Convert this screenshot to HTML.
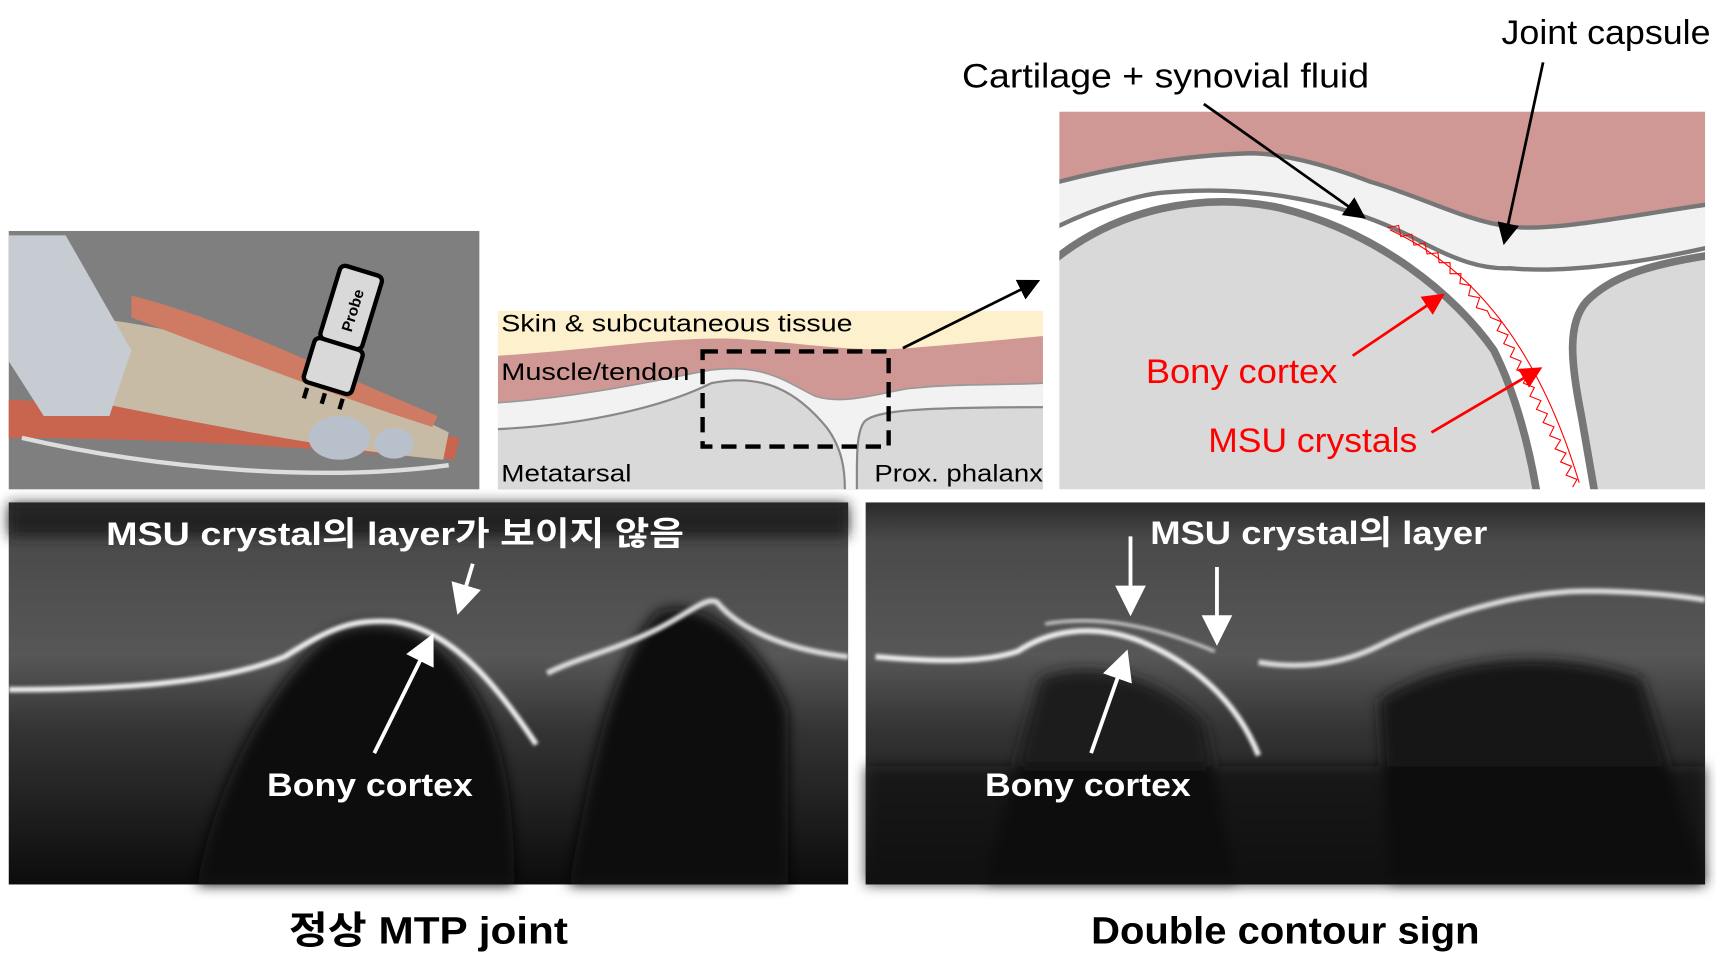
<!DOCTYPE html>
<html><head><meta charset="utf-8"><style>
html,body{margin:0;padding:0;background:#fff;width:1716px;height:960px;overflow:hidden}
svg{display:block}
text{font-family:"Liberation Sans","Noto Sans CJK KR",sans-serif}
</style></head><body>
<svg width="1716" height="960" viewBox="0 0 1568 877" preserveAspectRatio="none" xmlns="http://www.w3.org/2000/svg">
<defs>
<marker id="ab" markerWidth="8" markerHeight="8" refX="6" refY="4" orient="auto" markerUnits="strokeWidth"><path d="M0,0 L8,4 L0,8 Z" fill="#000"/></marker>
<marker id="ar" markerWidth="8" markerHeight="8" refX="6" refY="4" orient="auto" markerUnits="strokeWidth"><path d="M0,0 L8,4 L0,8 Z" fill="#f00"/></marker>
<marker id="aw" markerWidth="8" markerHeight="8" refX="6" refY="4" orient="auto" markerUnits="strokeWidth"><path d="M0,0 L8,4 L0,8 Z" fill="#fff"/></marker>
<linearGradient id="usg" x1="0" y1="0" x2="0" y2="1">
<stop offset="0" stop-color="#2a2a2a"/><stop offset="0.1" stop-color="#4a4a4a"/><stop offset="0.4" stop-color="#575757"/><stop offset="0.6" stop-color="#333"/><stop offset="1" stop-color="#0c0c0c"/>
</linearGradient>
<filter id="blur"><feGaussianBlur stdDeviation="6"/></filter>
<filter id="b2"><feGaussianBlur stdDeviation="1.5"/></filter>
<clipPath id="rc"><rect x="968" y="102" width="590" height="345"/></clipPath>
</defs>

<!-- Foot panel -->
<rect x="8" y="211" width="430" height="236" fill="#7f7f7f"/>
<path d="M8,365 C100,370 250,370 420,400 L415,420 C300,410 150,400 8,400 Z" fill="#c9644f"/>
<path d="M80,290 C180,300 300,340 410,395 L405,420 C300,410 200,390 100,370 Z" fill="#c8bba6"/>
<path d="M120,270 C200,290 280,330 400,380 L395,390 C300,360 200,320 120,290 Z" fill="#cf7a63"/>
<path d="M8,215 L60,215 L120,320 L100,380 L40,380 L8,330 Z" fill="#c7ccd3"/>
<ellipse cx="310" cy="400" rx="28" ry="20" fill="#b8c0cc"/>
<ellipse cx="360" cy="405" rx="18" ry="14" fill="#b8c0cc"/>
<path d="M20,400 C150,430 300,440 410,425" stroke="#ddd" stroke-width="4" fill="none"/>
<g transform="rotate(17 315 300)">
<rect x="295" y="245" width="40" height="70" rx="5" fill="#d9d9d9" stroke="#000" stroke-width="4"/>
<rect x="292" y="315" width="46" height="42" rx="5" fill="#d9d9d9" stroke="#000" stroke-width="4"/>
<text x="0" y="0" transform="translate(322 302) rotate(-90)" font-size="14" font-weight="bold">Probe</text>
<path d="M298,362 v10 M315,362 v10 M332,362 v10" stroke="#000" stroke-width="4"/>
</g>

<!-- Middle diagram -->
<rect x="455" y="284" width="498" height="163" fill="#fdf0cc"/>
<path d="M455,325 C540,320 620,306 680,310 C740,314 780,322 830,318 C880,314 920,310 953,307 L953,447 L455,447 Z" fill="#cf9895"/>
<path d="M455,368 C540,362 610,345 650,338 C700,332 720,350 745,362 C770,370 800,360 830,355 C880,350 920,352 953,350 L953,447 L455,447 Z" fill="#f2f2f2"/>
<path d="M455,368 C540,362 610,345 650,338 C700,332 720,350 745,362 C770,370 800,360 830,355 C880,350 920,352 953,350" fill="none" stroke="#999" stroke-width="1.5"/>
<path d="M455,392 C540,388 610,370 650,350 C700,340 730,360 755,390 C770,410 772,430 772,447 L455,447 Z" fill="#d9d9d9"/>
<path d="M455,392 C540,388 610,370 650,350 C700,340 730,360 755,390 C770,410 772,430 772,447" fill="none" stroke="#888" stroke-width="2"/>
<path d="M783,447 C783,420 782,395 790,385 C800,375 840,372 953,372 L953,447 Z" fill="#d9d9d9"/>
<path d="M783,447 C783,420 782,395 790,385 C800,375 840,372 953,372" fill="none" stroke="#888" stroke-width="2"/>
<rect x="642" y="321" width="170" height="87" fill="none" stroke="#000" stroke-width="4" stroke-dasharray="14,8"/>
<line x1="825" y1="318" x2="946" y2="258" stroke="#000" stroke-width="2.5" marker-end="url(#ab)"/>
<text x="458" y="303" font-size="22" textLength="321" lengthAdjust="spacingAndGlyphs">Skin &amp; subcutaneous tissue</text>
<text x="458" y="347" font-size="22" textLength="172" lengthAdjust="spacingAndGlyphs">Muscle/tendon</text>
<text x="458" y="440" font-size="22" textLength="119" lengthAdjust="spacingAndGlyphs">Metatarsal</text>
<text x="799" y="440" font-size="22" textLength="154" lengthAdjust="spacingAndGlyphs">Prox. phalanx</text>

<!-- Right diagram -->
<g clip-path="url(#rc)">
<rect x="968" y="102" width="590" height="345" fill="#fff"/>
<path d="M960,102 H1566 V187 C1500,195 1420,212 1379,207 C1337,201 1300,180 1252,166 C1210,150 1170,140 1143,140 C1080,142 1020,152 960,168 Z" fill="#cf9895"/>
<path d="M960,168 C1020,152 1080,142 1143,140 C1170,140 1210,150 1252,166 C1300,180 1337,201 1379,207 C1420,212 1500,195 1566,186 L1566,225 C1500,240 1430,250 1379,245 C1355,246 1330,238 1295,219 C1230,185 1150,168 1062,176 C1040,178 1000,190 960,210 Z" fill="#f2f2f2" stroke="#777" stroke-width="4"/>
<path d="M960,240 C1020,190 1100,175 1170,190 C1260,212 1330,270 1365,320 C1385,360 1398,410 1405,455 L960,455 Z" fill="#d9d9d9"/>
<path d="M960,240 C1020,190 1100,175 1170,190 C1260,212 1330,270 1365,320 C1385,360 1398,410 1405,455" fill="none" stroke="#777" stroke-width="7"/>
<path d="M1570,232 C1500,242 1470,255 1450,275 C1432,295 1435,330 1445,380 L1458,455 L1570,455 Z" fill="#d9d9d9"/>
<path d="M1570,232 C1500,242 1470,255 1450,275 C1432,295 1435,330 1445,380 L1458,455" fill="none" stroke="#777" stroke-width="7"/>
</g>
<polyline points="1268,208 1278,206 1280,216 1290,214 1292,224 1302,222 1304,232 1314,231 1315,240 1325,240 1325,250 1335,250 1334,259 1344,261 1342,270 1352,272 1349,281 1359,284 1362,290 1372,294 1368,302 1378,306 1374,314 1384,318 1380,326 1390,330 1386,338 1396,342 1392,350 1402,354 1398,362 1408,366 1404,374 1414,378 1410,386 1420,390 1416,398 1426,402 1421,410 1431,414 1426,422 1436,426 1431,434 1441,438 1437,445" fill="none" stroke="#f00" stroke-width="1"/>
<path d="M1270,210 Q1390,265 1443,441" fill="none" stroke="#f00" stroke-width="1"/>
<line x1="1100" y1="95" x2="1244" y2="197" stroke="#000" stroke-width="2.5" marker-end="url(#ab)"/>
<line x1="1410" y1="57" x2="1375" y2="219" stroke="#000" stroke-width="2.5" marker-end="url(#ab)"/>
<line x1="1236" y1="325" x2="1316" y2="271" stroke="#f00" stroke-width="2.5" marker-end="url(#ar)"/>
<line x1="1308" y1="395" x2="1405" y2="338" stroke="#f00" stroke-width="2.5" marker-end="url(#ar)"/>
<text x="879" y="80" font-size="31" textLength="372" lengthAdjust="spacingAndGlyphs">Cartilage + synovial fluid</text>
<text x="1372" y="40" font-size="31" textLength="191" lengthAdjust="spacingAndGlyphs">Joint capsule</text>
<text x="1047" y="350" font-size="31" fill="#f00" textLength="175" lengthAdjust="spacingAndGlyphs">Bony cortex</text>
<text x="1104" y="413" font-size="31" fill="#f00" textLength="191" lengthAdjust="spacingAndGlyphs">MSU crystals</text>

<!-- Left ultrasound -->
<rect x="8" y="459" width="767" height="349" fill="url(#usg)"/>
<g filter="url(#blur)">
<path d="M300,580 C340,560 390,570 420,610 C450,650 470,700 470,808 L180,808 C200,700 260,610 300,580 Z" fill="#0c0c0c"/>
<path d="M600,560 C640,540 700,590 720,650 L720,808 L520,808 C540,700 560,600 600,560 Z" fill="#0e0e0e"/>
<rect x="8" y="460" width="767" height="30" fill="#222"/>
</g>
<path d="M8,630 C100,630 200,625 260,600 C300,575 320,565 360,568 C410,575 450,620 490,680" fill="none" stroke="#eee" stroke-width="5" filter="url(#b2)"/>
<path d="M500,615 C530,600 560,595 600,575 C630,560 645,545 655,550 C680,580 730,595 775,600" fill="none" stroke="#ddd" stroke-width="5" filter="url(#b2)"/>

<!-- Right ultrasound -->
<rect x="791" y="459" width="767" height="349" fill="url(#usg)"/>
<g filter="url(#blur)">
<path d="M950,620 C1000,600 1060,620 1100,660 L1130,808 L900,808 Z" fill="#1a1a1a"/>
<path d="M1260,640 C1320,600 1420,590 1500,620 L1558,808 L1270,808 Z" fill="#151515"/>
<rect x="791" y="700" width="767" height="108" fill="#0e0e0e" opacity="0.7"/>
</g>
<path d="M800,600 C860,605 900,605 930,595 C960,575 1000,570 1040,585 C1090,605 1130,640 1150,690" fill="none" stroke="#eee" stroke-width="5" filter="url(#b2)"/>
<path d="M955,570 C1000,562 1050,570 1110,595" fill="none" stroke="#ccc" stroke-width="3" filter="url(#b2)"/>
<path d="M1150,605 C1180,610 1220,610 1260,590 C1330,555 1400,540 1450,540 C1500,540 1540,545 1558,548" fill="none" stroke="#ddd" stroke-width="5" filter="url(#b2)"/>

<line x1="432" y1="515" x2="420" y2="555" stroke="#fff" stroke-width="3.5" marker-end="url(#aw)"/>
<line x1="342" y1="688" x2="393" y2="585" stroke="#fff" stroke-width="3.5" marker-end="url(#aw)"/>
<line x1="1033" y1="490" x2="1033" y2="556" stroke="#fff" stroke-width="3.5" marker-end="url(#aw)"/>
<line x1="1112" y1="518" x2="1112" y2="583" stroke="#fff" stroke-width="3.5" marker-end="url(#aw)"/>
<line x1="997" y1="688" x2="1028" y2="600" stroke="#fff" stroke-width="3.5" marker-end="url(#aw)"/>
<text x="97" y="498" font-size="30" font-weight="bold" fill="#fff" textLength="528" lengthAdjust="spacingAndGlyphs">MSU crystal의 layer가 보이지 않음</text>
<text x="244" y="727" font-size="30" font-weight="bold" fill="#fff" textLength="188" lengthAdjust="spacingAndGlyphs">Bony cortex</text>
<text x="1051" y="497" font-size="30" font-weight="bold" fill="#fff" textLength="308" lengthAdjust="spacingAndGlyphs">MSU crystal의 layer</text>
<text x="900" y="727" font-size="30" font-weight="bold" fill="#fff" textLength="188" lengthAdjust="spacingAndGlyphs">Bony cortex</text>

<text x="264" y="862" font-size="35" font-weight="bold" textLength="255" lengthAdjust="spacingAndGlyphs">정상 MTP joint</text>
<text x="997" y="862" font-size="35" font-weight="bold" textLength="355" lengthAdjust="spacingAndGlyphs">Double contour sign</text>
</svg>
</body></html>
